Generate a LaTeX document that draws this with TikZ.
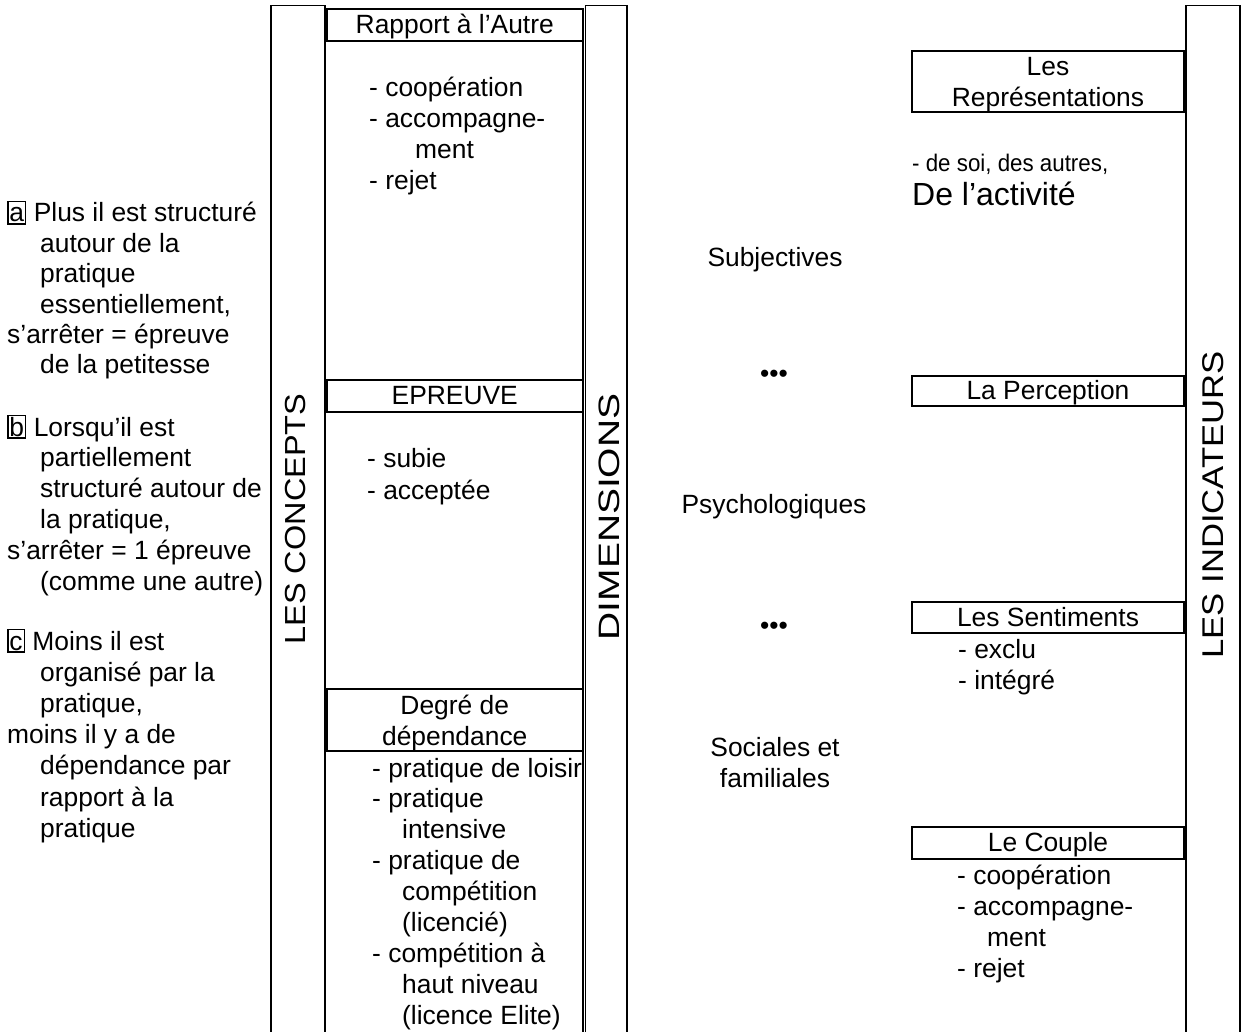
\documentclass[tikz,border=0pt]{standalone}
\usepackage{fontspec}
\setmainfont{Liberation Sans}
\usepackage{graphicx}
\newcommand\boxl[1]{{\setlength\fboxsep{1pt}\setlength\fboxrule{1.3pt}\fbox{\vphantom{Ab}#1}}}
\newcommand\Ltab[1]{\begin{tabular}[t]{@{}l@{}}#1\end{tabular}}
\newcommand\Ctab[1]{\begin{tabular}[t]{@{}c@{}}#1\end{tabular}}
\tikzset{
  frame/.style={line width=1.6pt},
  hbox/.style={draw, line width=2pt, inner sep=0, minimum width=#1,
    text height=17pt, text depth=0pt, font=\fontsize{26.4}{30.8}\selectfont},
  tl/.style={inner sep=0, anchor=base west, font=\fontsize{26.4}{#1}\selectfont},
  tl/.default=30.8,
  tc/.style={inner sep=0, anchor=base, font=\fontsize{26.4}{#1}\selectfont},
  tc/.default=30.8,
  vlab/.style={rotate=90, inner sep=0, font=\fontsize{#1}{30}\selectfont},
}
\begin{document}
\begin{tikzpicture}[x=1pt,y=-1pt]
\useasboundingbox (0,0) rectangle (1241,1032);
\fill[white] (0,0) rectangle (1241,1032);

% column frames
\draw[frame] (271,1032) -- (271,5.5) -- (325,5.5) -- (325,1032);
\draw[frame] (583,9) -- (583,1032);
\draw[frame] (585.5,1032) -- (585.5,5.5) -- (627,5.5) -- (627,1032);
\draw[frame] (1186,1032) -- (1186,5.5) -- (1240,5.5) -- (1240,1032);

% vertical labels
\node[vlab=29] (lesconcepts) at (296,519) {\scalebox{1.12}[1]{LES CONCEPTS}};
\node[vlab=29.5] (dimensions) at (609,517) {\scalebox{1.32}[1]{DIMENSIONS}};
\node[vlab=30] (indicateurs) at (1213,505) {\scalebox{1.155}[1]{LES INDICATEURS}};

% left text blocks
\node[tl=30.4] (blocka) at (7,222) {\Ltab{\boxl{a} Plus il est structuré\\
  \hspace*{33pt}autour de la\\ \hspace*{33pt}pratique\\ \hspace*{33pt}essentiellement,\\
  s’arrêter = épreuve\\ \hspace*{33pt}de la petitesse}};
\node[tl=30.8] (blockb) at (7,436) {\Ltab{\boxl{b} Lorsqu’il est\\
  \hspace*{33pt}partiellement\\ \hspace*{33pt}structuré autour de\\ \hspace*{33pt}la pratique,\\
  s’arrêter = 1 épreuve\\ \hspace*{33pt}(comme une autre)}};
\node[tl=31.2] (blockc) at (7,650) {\Ltab{\boxl{c} Moins il est\\
  \hspace*{33pt}organisé par la\\ \hspace*{33pt}pratique,\\ moins il y a de\\
  \hspace*{33pt}dépendance par\\ \hspace*{33pt}rapport à la\\ \hspace*{33pt}pratique}};

% concept boxes
\node[hbox=256.5, minimum height=32] (rapport) at (454.75,25) {Rapport à l’Autre};
\node[tl=30.8] (rapportlist) at (369,97) {\Ltab{- coopération\\ - accompagne-\\ \hspace*{46pt}ment\\ - rejet}};
\node[hbox=256.5, minimum height=32] (epreuve) at (454.75,396) {EPREUVE};
\node[tl=32] (epreuvelist) at (367,467) {\Ltab{- subie\\ - acceptée}};
\draw[line width=2pt] (326.5,689) rectangle (583,751);
\coordinate (degrebox) at (454.75,720);
\node[tc=31] (degre) at (454.75,714) {\Ctab{Degré de\\ dépendance}};
\node[tl=30.9] (degrelist) at (372,777) {\Ltab{- pratique de loisir\\ - pratique\\
  \hspace*{30pt}intensive\\ - pratique de\\ \hspace*{30pt}compétition\\ \hspace*{30pt}(licencié)\\
  - compétition à\\ \hspace*{30pt}haut niveau\\ \hspace*{30pt}(licence Elite)}};

% dimensions
\node[tc] (subj) at (775,266) {Subjectives};
\node[tc] (dots1) at (774,382) {•••};
\node[tc] (psy) at (774,513) {Psychologiques};
\node[tc] (dots2) at (774,634) {•••};
\node[tc=31] (soc) at (775,756) {\Ctab{Sociales et\\ familiales}};

% indicators
\draw[line width=2pt] (912,51) rectangle (1184,112);
\node[tc=31] (rep) at (1048,76) {\Ctab{Les\\ Représentations}};
\node[tl, font=\fontsize{24}{28}\selectfont] (soi) at (912,172) {\scalebox{0.93}[1]{- de soi, des autres,}};
\node[tl, font=\fontsize{32}{36}\selectfont] (activite) at (912,206) {De l’activité};
\node[hbox=272, minimum height=30] (perc) at (1048,391) {La Perception};
\node[hbox=272, minimum height=31] (sent) at (1048,617.5) {Les Sentiments};
\node[tl=31] (sentlist) at (958,658) {\Ltab{- exclu\\ - intégré}};
\node[hbox=272, minimum height=32] (couple) at (1048,843) {Le Couple};
\node[tl=31] (couplelist) at (957,884) {\Ltab{- coopération\\ - accompagne-\\ \hspace*{30pt}ment\\ - rejet}};
\end{tikzpicture}
\end{document}
